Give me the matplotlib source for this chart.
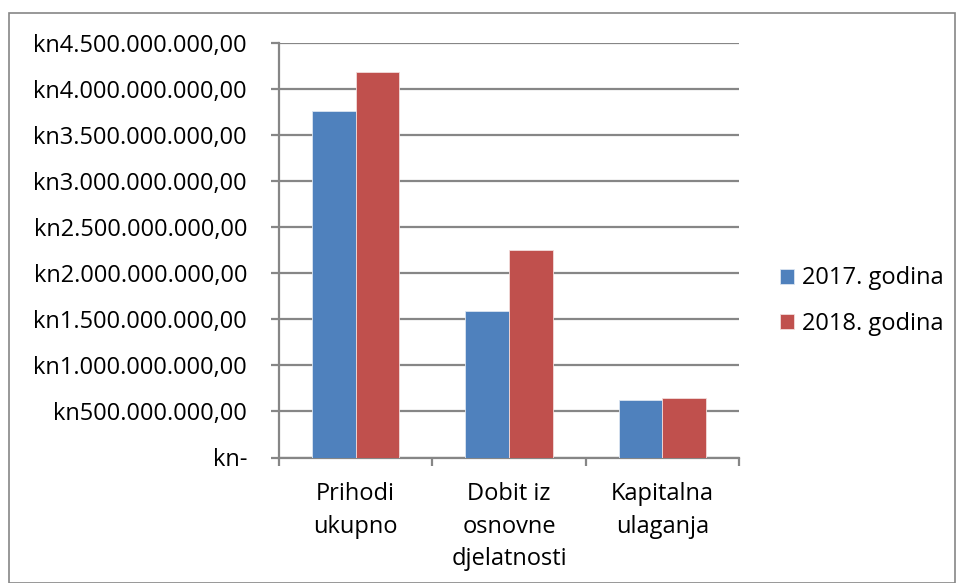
import matplotlib.pyplot as plt
import matplotlib.patches as patches
import numpy as np

categories = ["Prihodi\nukupno", "Dobit iz\nosnovne\ndjelatnosti", "Kapitalna\nulaganja"]
series_names = ["2017. godina", "2018. godina"]
values_2017 = [3.758e9, 1.589e9, 0.620e9]
values_2018 = [4.180e9, 2.258e9, 0.649e9]
yticks = [0, 0.5e9, 1e9, 1.5e9, 2e9, 2.5e9, 3e9, 3.5e9, 4e9, 4.5e9]

colors = ["#4F81BD", "#C0504D"]
grid_col = "#868686"
font = "Open Sans"
fs = 17


def kn_fmt(v):
    if v == 0:
        return "kn-"
    s = f"{v:,.2f}"  # 4,500,000,000.00
    s = s.replace(",", "X").replace(".", ",").replace("X", ".")
    return "kn" + s


fig = plt.figure(figsize=(9.56, 5.83), dpi=100)
ax = fig.add_axes([279 / 956, 1 - 457.5 / 583, 460 / 956, 414.5 / 583])

x = np.arange(len(categories))
w = 1 / 3.5
ax.bar(x - w / 2, values_2017, w, color=colors[0], edgecolor="#dbe5f1", linewidth=0.6,
       label=series_names[0], zorder=3)
ax.bar(x + w / 2, values_2018, w, color=colors[1], edgecolor="#f2dcdb", linewidth=0.6,
       label=series_names[1], zorder=3)

ax.set_xlim(-0.5, len(categories) - 0.5)
ax.set_ylim(0, 4.5e9)
ax.set_yticks(yticks)
ax.set_yticklabels([kn_fmt(v) for v in yticks], fontfamily=font, fontsize=fs)
ax.yaxis.grid(True, color=grid_col, linewidth=1.6, zorder=0)
ax.set_axisbelow(True)

ax.set_xticks(x)
ax.set_xticklabels(categories, fontfamily=font, fontsize=fs, linespacing=1.45, va="top")
ax.set_xticks(np.arange(len(categories) + 1) - 0.5, minor=True)
ax.tick_params(axis="x", which="major", length=0, pad=18)
ax.tick_params(axis="x", which="minor", length=6, width=1.6, color=grid_col, direction="out")
ax.tick_params(axis="y", length=6, width=1.6, color=grid_col, direction="out", pad=17)

for side in ["top", "right"]:
    ax.spines[side].set_visible(False)
for side in ["left", "bottom"]:
    ax.spines[side].set_color(grid_col)
    ax.spines[side].set_linewidth(1.6)

leg = fig.legend(loc="center left", bbox_to_anchor=(759 / 956, 1 - 301 / 583), frameon=False,
                 prop={"family": font, "size": fs}, handlelength=0.6, handleheight=0.6,
                 handletextpad=0.3, labelspacing=0.9)

fig.patches.append(patches.Rectangle((9 / 956, 0.5 / 583), 946 / 956, 570 / 583,
                                     transform=fig.transFigure, fill=False,
                                     edgecolor=grid_col, linewidth=1.2))

fig.savefig("out.png", dpi=100)
